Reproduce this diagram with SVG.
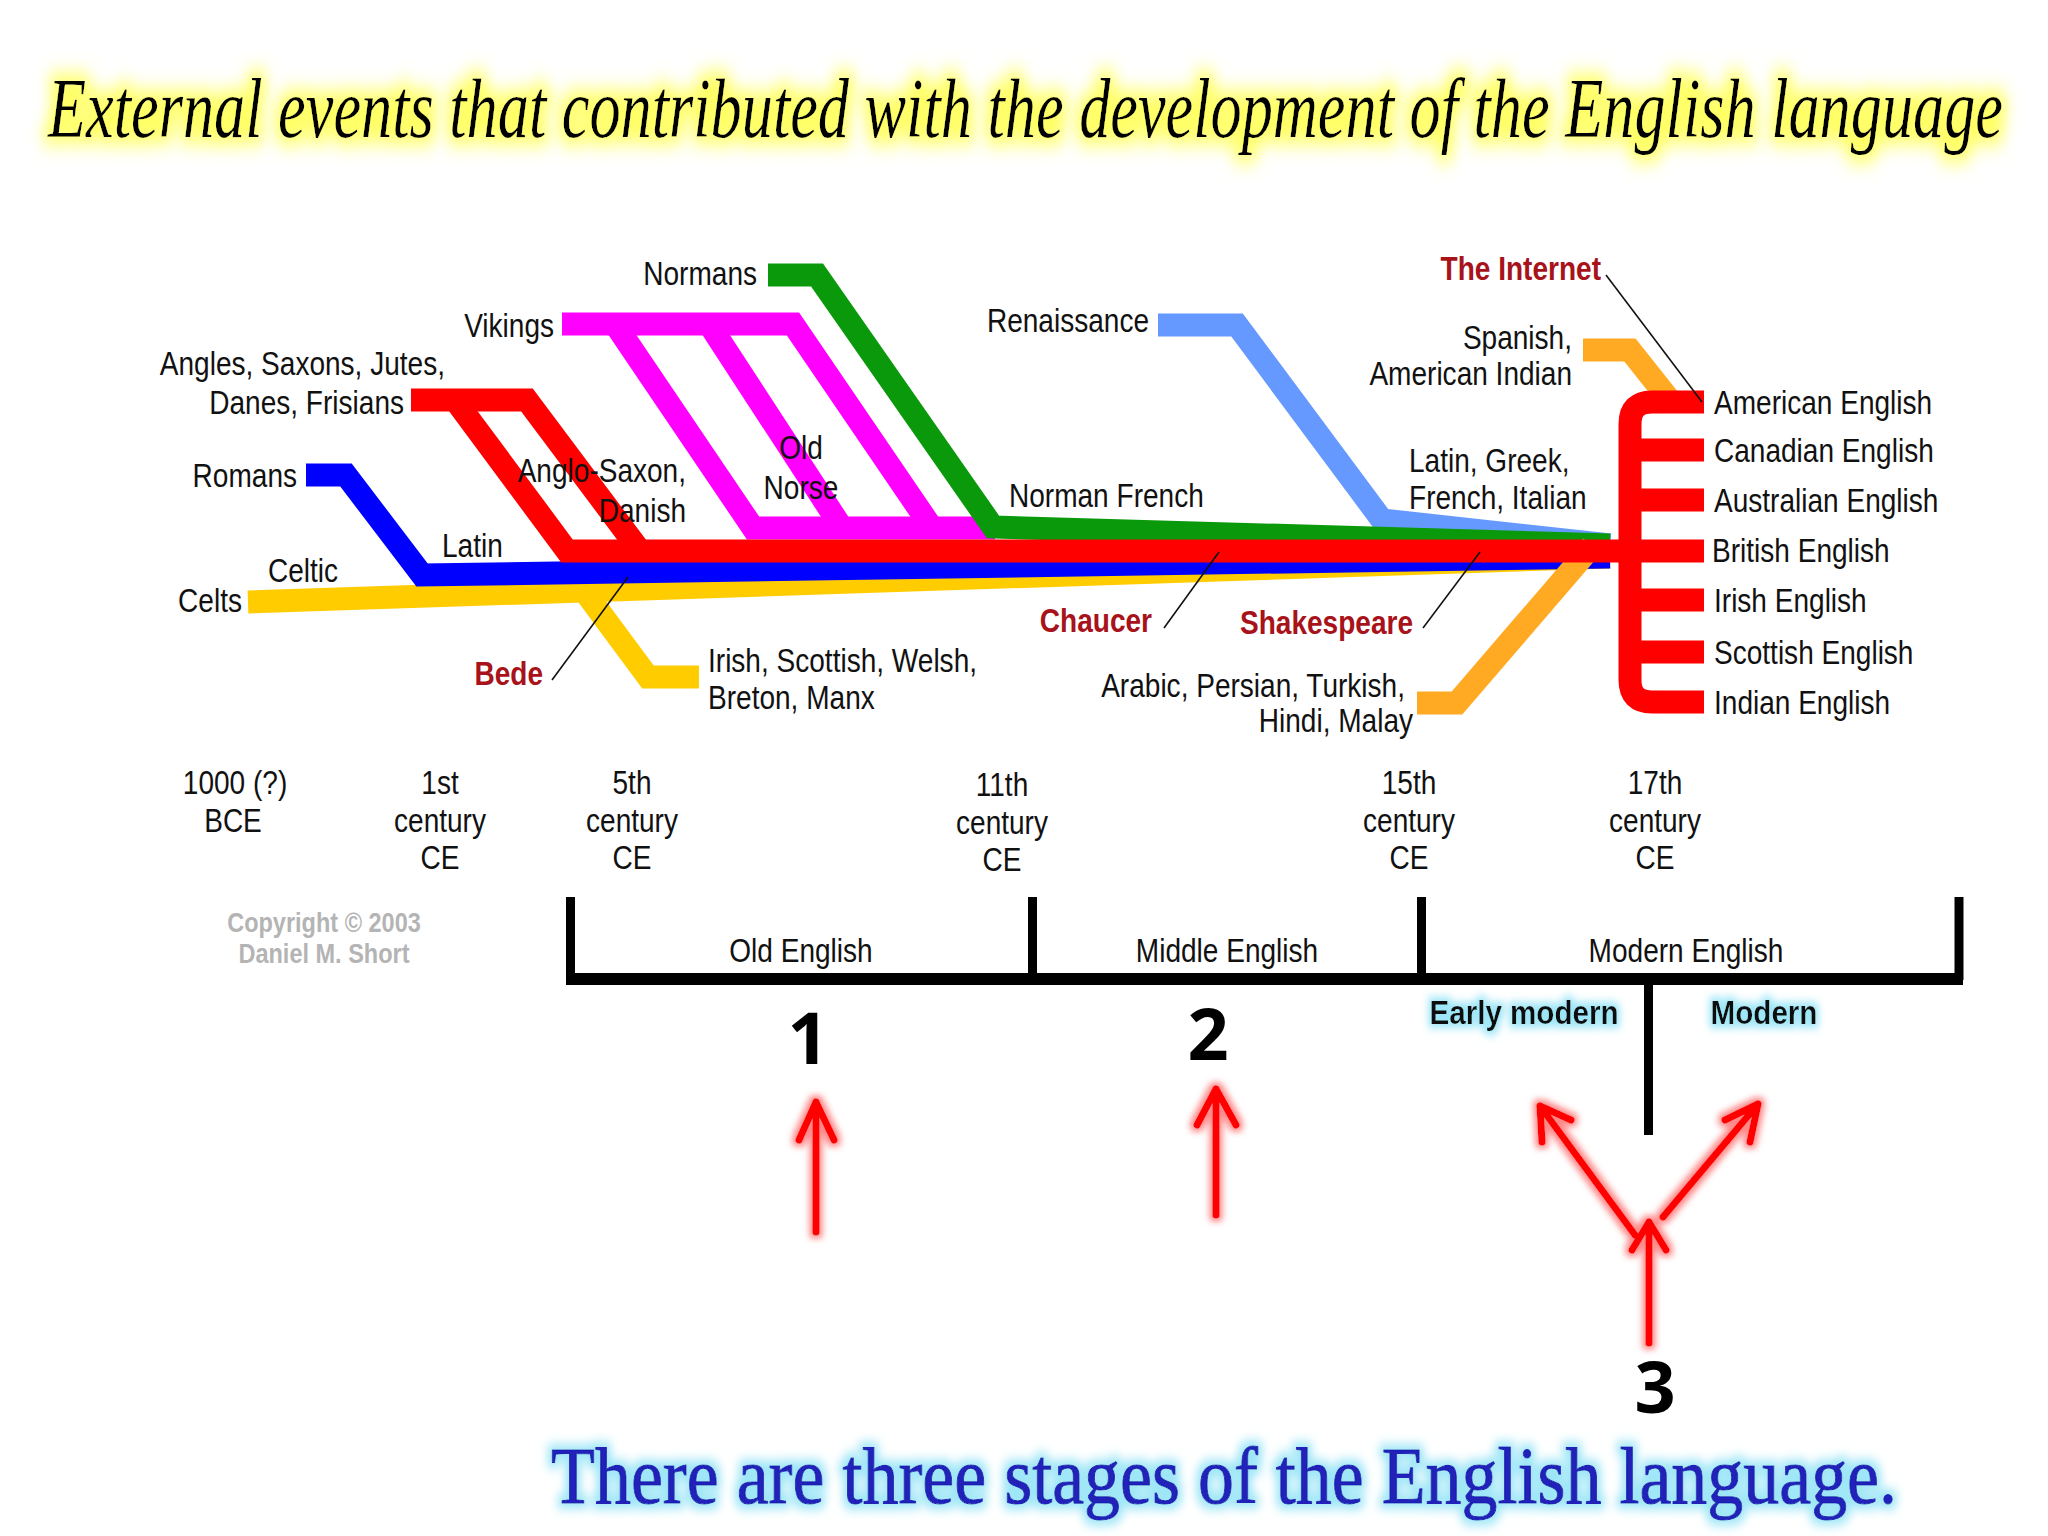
<svg xmlns="http://www.w3.org/2000/svg" width="2048" height="1536" viewBox="0 0 2048 1536">
<defs>
<filter id="glowY" x="-5%" y="-60%" width="110%" height="220%">
<feMorphology in="SourceAlpha" operator="dilate" radius="5" result="d"/>
<feGaussianBlur in="d" stdDeviation="7" result="b"/>
<feFlood flood-color="#ffff66"/>
<feComposite in2="b" operator="in" result="g"/>
<feMerge><feMergeNode in="g"/><feMergeNode in="SourceGraphic"/></feMerge>
</filter>
<filter id="glowC" x="-10%" y="-60%" width="120%" height="220%">
<feMorphology in="SourceAlpha" operator="dilate" radius="4" result="d"/>
<feGaussianBlur in="d" stdDeviation="4" result="b"/>
<feFlood flood-color="#9ee6f7"/>
<feComposite in2="b" operator="in" result="g"/>
<feMerge><feMergeNode in="g"/><feMergeNode in="SourceGraphic"/></feMerge>
</filter>
<filter id="glowR" x="-50%" y="-20%" width="200%" height="140%">
<feMorphology in="SourceAlpha" operator="dilate" radius="3" result="d"/>
<feGaussianBlur in="d" stdDeviation="3" result="b"/>
<feFlood flood-color="#ff8888"/>
<feComposite in2="b" operator="in" result="g"/>
<feMerge><feMergeNode in="g"/><feMergeNode in="SourceGraphic"/></feMerge>
</filter>
<style>
.lbl{font-family:"Liberation Sans",Arial,sans-serif;font-size:33px;fill:#111}
.ev{font-family:"Liberation Sans",Arial,sans-serif;font-size:33px;font-weight:bold;fill:#a8121a}
.cp{font-family:"Liberation Sans",Arial,sans-serif;font-size:28px;font-weight:bold;fill:#b4b4b4}
.mid{text-anchor:middle}
.end{text-anchor:end}
.ln{fill:none;stroke-width:23;stroke-linejoin:miter;stroke-linecap:butt}
.ptr{fill:none;stroke:#111;stroke-width:1.6}
.num{font-family:"Open Sans","Liberation Sans",sans-serif;font-size:72px;font-weight:bold;fill:#000}
.sub{font-family:"Liberation Sans",Arial,sans-serif;font-size:34px;font-weight:bold;fill:#111}
.ar{fill:none;stroke:#ff0000;stroke-width:7;stroke-linecap:round;stroke-linejoin:round}
.brk{fill:none;stroke:#000}
</style>
</defs>
<rect width="2048" height="1536" fill="#ffffff"/>

<g id="title">
<text transform="translate(48,137) scale(1,1.4)" filter="url(#glowY)" font-family="'Liberation Serif',serif" font-style="italic" font-size="60" fill="#000" textLength="1955" lengthAdjust="spacingAndGlyphs">External events that contributed with the development of the English language</text>
</g>

<g id="connectors">
<polyline class="ln" stroke="#ffcc00" points="248,602 1610,557"/>
<polyline class="ln" stroke="#ffcc00" points="585,592 648,677 699,677"/>
<polyline class="ln" stroke="#0000ff" points="306,475 346,475 422,575 1610,557"/>
<polyline class="ln" stroke="#6699ff" points="1158,325 1237,325 1382,520 1610,545"/>
<polyline class="ln" stroke="#ff00ff" points="562,324 793,324 932,528"/>
<polyline class="ln" stroke="#ff00ff" points="615,324 753,528 995,528"/>
<polyline class="ln" stroke="#ff00ff" points="709,324 842,528"/>
<polyline class="ln" stroke="#0a990a" points="768,275 817,275 993,527 1610,545"/>
<polyline class="ln" stroke="#ffaa22" points="1417,703 1457,703 1592,546"/>
<polyline class="ln" stroke="#ffaa22" points="1583,350 1630,350 1668,398"/>
<polyline class="ln" stroke="#ff0000" points="411,400 527,400 640,551"/>
<polyline class="ln" stroke="#ff0000" points="455,400 567,551 1704,551"/>
<path class="ln" stroke="#ff0000" d="M1704,402 H1652 Q1630,402 1630,424 V680 Q1630,702 1652,702 H1704 M1630,450 H1704 M1630,500 H1704 M1630,600 H1704 M1630,652 H1704"/>
<line class="ptr" x1="552" y1="680" x2="628" y2="577"/>
<line class="ptr" x1="1164" y1="628" x2="1219" y2="552"/>
<line class="ptr" x1="1423" y1="628" x2="1480" y2="552"/>
<line class="ptr" x1="1606" y1="275" x2="1702" y2="402"/>
</g>

<g id="sources">
<text class="lbl end" transform="translate(757,285) scale(.85,1)">Normans</text>
<text class="lbl end" transform="translate(554,337) scale(.85,1)">Vikings</text>
<text class="lbl end" transform="translate(445,375) scale(.85,1)">Angles, Saxons, Jutes,</text>
<text class="lbl end" transform="translate(404,414) scale(.85,1)">Danes, Frisians</text>
<text class="lbl end" transform="translate(297,487) scale(.85,1)">Romans</text>
<text class="lbl end" transform="translate(242,612) scale(.85,1)">Celts</text>
<text class="lbl end" transform="translate(1149,332) scale(.85,1)">Renaissance</text>
<text class="lbl end" transform="translate(1572,349) scale(.85,1)">Spanish,</text>
<text class="lbl end" transform="translate(1572,385) scale(.85,1)">American Indian</text>
<text class="lbl end" transform="translate(1405,697) scale(.85,1)">Arabic, Persian, Turkish,</text>
<text class="lbl end" transform="translate(1413,732) scale(.85,1)">Hindi, Malay</text>
</g>

<g id="languages">
<text class="lbl" transform="translate(442,557) scale(.85,1)">Latin</text>
<text class="lbl" transform="translate(268,582) scale(.85,1)">Celtic</text>
<text class="lbl end" transform="translate(686,482) scale(.85,1)">Anglo-Saxon,</text>
<text class="lbl end" transform="translate(686,522) scale(.85,1)">Danish</text>
<text class="lbl mid" transform="translate(801,459) scale(.85,1)">Old</text>
<text class="lbl mid" transform="translate(801,499) scale(.85,1)">Norse</text>
<text class="lbl" transform="translate(708,672) scale(.85,1)">Irish, Scottish, Welsh,</text>
<text class="lbl" transform="translate(708,709) scale(.85,1)">Breton, Manx</text>
<text class="lbl" transform="translate(1009,507) scale(.85,1)">Norman French</text>
<text class="lbl" transform="translate(1409,472) scale(.85,1)">Latin, Greek,</text>
<text class="lbl" transform="translate(1409,509) scale(.85,1)">French, Italian</text>
</g>

<g id="events">
<text class="ev end" transform="translate(543,685) scale(.85,1)">Bede</text>
<text class="ev end" transform="translate(1152,632) scale(.85,1)">Chaucer</text>
<text class="ev end" transform="translate(1413,634) scale(.85,1)">Shakespeare</text>
<text class="ev end" transform="translate(1601,280) scale(.85,1)">The Internet</text>
</g>

<g id="varieties">
<text class="lbl" transform="translate(1714,414) scale(.85,1)">American English</text>
<text class="lbl" transform="translate(1714,462) scale(.85,1)">Canadian English</text>
<text class="lbl" transform="translate(1714,512) scale(.85,1)">Australian English</text>
<text class="lbl" transform="translate(1712,562) scale(.85,1)">British English</text>
<text class="lbl" transform="translate(1714,612) scale(.85,1)">Irish English</text>
<text class="lbl" transform="translate(1714,664) scale(.85,1)">Scottish English</text>
<text class="lbl" transform="translate(1714,714) scale(.85,1)">Indian English</text>
</g>

<g id="timeline">
<text class="lbl mid" transform="translate(235,794) scale(.85,1)">1000 (?)</text>
<text class="lbl mid" transform="translate(233,832) scale(.85,1)">BCE</text>
<text class="lbl mid" transform="translate(440,794) scale(.85,1)">1st</text>
<text class="lbl mid" transform="translate(440,832) scale(.85,1)">century</text>
<text class="lbl mid" transform="translate(440,869) scale(.85,1)">CE</text>
<text class="lbl mid" transform="translate(632,794) scale(.85,1)">5th</text>
<text class="lbl mid" transform="translate(632,832) scale(.85,1)">century</text>
<text class="lbl mid" transform="translate(632,869) scale(.85,1)">CE</text>
<text class="lbl mid" transform="translate(1002,796) scale(.85,1)">11th</text>
<text class="lbl mid" transform="translate(1002,834) scale(.85,1)">century</text>
<text class="lbl mid" transform="translate(1002,871) scale(.85,1)">CE</text>
<text class="lbl mid" transform="translate(1409,794) scale(.85,1)">15th</text>
<text class="lbl mid" transform="translate(1409,832) scale(.85,1)">century</text>
<text class="lbl mid" transform="translate(1409,869) scale(.85,1)">CE</text>
<text class="lbl mid" transform="translate(1655,794) scale(.85,1)">17th</text>
<text class="lbl mid" transform="translate(1655,832) scale(.85,1)">century</text>
<text class="lbl mid" transform="translate(1655,869) scale(.85,1)">CE</text>
<text class="cp mid" transform="translate(324,932) scale(.84,1)">Copyright © 2003</text>
<text class="cp mid" transform="translate(324,963) scale(.84,1)">Daniel M. Short</text>
</g>

<g id="periods">
<path class="brk" stroke-width="9" d="M570.5,897 V980 M1032.5,897 V980 M1421.5,897 V980 M1959,897 V980 M1648.5,979 V1135"/>
<path class="brk" stroke-width="12" d="M566,979 H1963"/>
<text class="lbl mid" transform="translate(801,962) scale(.85,1)">Old English</text>
<text class="lbl mid" transform="translate(1227,962) scale(.85,1)">Middle English</text>
<text class="lbl mid" transform="translate(1686,962) scale(.85,1)">Modern English</text>
<text class="sub mid" transform="translate(1524,1024) scale(.87,1)" filter="url(#glowC)">Early modern</text>
<text class="sub mid" transform="translate(1764,1024) scale(.87,1)" filter="url(#glowC)">Modern</text>
</g>

<g id="stages">
<text class="num mid" x="808" y="1064">1</text>
<text class="num mid" x="1208" y="1060">2</text>
<text class="num mid" x="1655" y="1413">3</text>
<g filter="url(#glowR)">
<path class="ar" d="M816,1232 V1102 M799,1140 L816,1102 L834,1140"/>
<path class="ar" d="M1216,1215 V1089 M1197,1125 L1216,1089 L1236,1125"/>
<path class="ar" d="M1649,1343 V1222 M1632,1250 L1649,1222 L1666,1250"/>
<path class="ar" d="M1635,1235 L1540,1106 M1542,1142 L1540,1106 L1571,1120"/>
<path class="ar" d="M1663,1217 L1758,1104 M1750,1142 L1758,1104 L1725,1120"/>
</g>
</g>

<g id="caption">
<text transform="translate(551,1503) scale(1,1.3)" filter="url(#glowC)" font-family="'Liberation Serif',serif" font-size="62" fill="#2020b8" stroke="#2020b8" stroke-width="0.8" textLength="1346" lengthAdjust="spacingAndGlyphs">There are three stages of the English language.</text>
</g>
</svg>
